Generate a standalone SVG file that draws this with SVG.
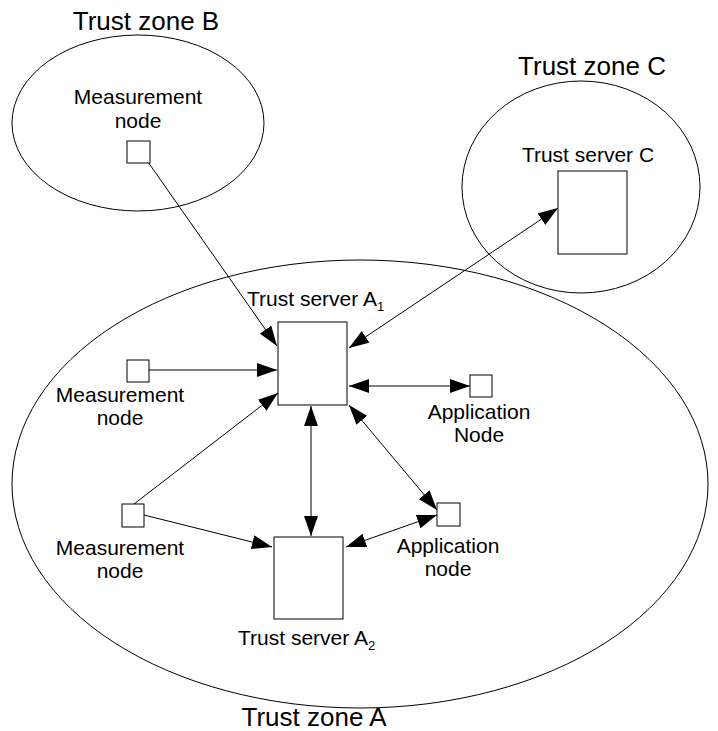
<svg xmlns="http://www.w3.org/2000/svg" width="718" height="731" viewBox="0 0 718 731">
<style>
text{font-family:"Liberation Sans",Arial,sans-serif;fill:#000}
.z{font-size:26px}
.t{font-size:21px}
.zone{fill:none;stroke:#000;stroke-width:1}
.box{fill:#fff;stroke:#000;stroke-width:1}
.c{stroke:#000;stroke-width:1;fill:none}
</style>
<defs>
<marker id="ae" viewBox="0 0 20 14" refX="20" refY="7" markerWidth="20" markerHeight="14" markerUnits="userSpaceOnUse" orient="auto"><path d="M0,0L20,7L0,14z" fill="#000"/></marker>
<marker id="as" viewBox="0 0 20 14" refX="0" refY="7" markerWidth="20" markerHeight="14" markerUnits="userSpaceOnUse" orient="auto"><path d="M20,0L0,7L20,14z" fill="#000"/></marker>
</defs>
<g id="zoneB"><ellipse class="zone" cx="138" cy="123" rx="126" ry="88"/><text class="z" x="146" y="30" text-anchor="middle">Trust zone B</text></g>
<g id="zoneC"><ellipse class="zone" cx="581" cy="187" rx="119" ry="106"/><text class="z" x="592" y="75" text-anchor="middle">Trust zone C</text></g>
<g id="zoneA"><ellipse class="zone" cx="360" cy="484" rx="348" ry="224"/><text class="z" x="314" y="726" text-anchor="middle">Trust zone A</text></g>
<g id="connectors">
<line class="c" x1="148" y1="162" x2="277" y2="346" marker-end="url(#ae)"/>
<line class="c" x1="149" y1="370" x2="277" y2="370" marker-end="url(#ae)"/>
<line class="c" x1="134" y1="504" x2="278" y2="393" marker-end="url(#ae)"/>
<line class="c" x1="144" y1="515" x2="272" y2="547" marker-end="url(#ae)"/>
<line class="c" x1="349" y1="348" x2="558" y2="208" marker-start="url(#as)" marker-end="url(#ae)"/>
<line class="c" x1="349" y1="386" x2="470" y2="386" marker-start="url(#as)" marker-end="url(#ae)"/>
<line class="c" x1="349" y1="405" x2="437" y2="510" marker-start="url(#as)" marker-end="url(#ae)"/>
<line class="c" x1="311" y1="406" x2="311" y2="536" marker-start="url(#as)" marker-end="url(#ae)"/>
<line class="c" x1="346" y1="547" x2="437" y2="515" marker-start="url(#as)" marker-end="url(#ae)"/>
</g>
<g id="measB"><rect class="box" x="127" y="141" width="23" height="22"/><text class="t" x="138" y="104" text-anchor="middle">Measurement</text><text class="t" x="138" y="128" text-anchor="middle">node</text></g>
<g id="serverC"><rect class="box" x="558" y="171" width="69" height="83"/><text class="t" x="588" y="162" text-anchor="middle">Trust server C</text></g>
<g id="serverA1"><rect class="box" x="278" y="322" width="69" height="83"/><text class="t" x="247" y="306">Trust server A<tspan font-size="13" dy="5">1</tspan></text></g>
<g id="measA1"><rect class="box" x="127" y="360" width="22" height="22"/><text class="t" x="120" y="402" text-anchor="middle">Measurement</text><text class="t" x="120" y="425" text-anchor="middle">node</text></g>
<g id="appA1"><rect class="box" x="470" y="375" width="22" height="22"/><text class="t" x="479" y="419" text-anchor="middle">Application</text><text class="t" x="479" y="442" text-anchor="middle">Node</text></g>
<g id="measA2"><rect class="box" x="122" y="504" width="22" height="23"/><text class="t" x="120" y="555" text-anchor="middle">Measurement</text><text class="t" x="120" y="578" text-anchor="middle">node</text></g>
<g id="appA2"><rect class="box" x="437" y="503" width="23" height="23"/><text class="t" x="448" y="553" text-anchor="middle">Application</text><text class="t" x="448" y="576" text-anchor="middle">node</text></g>
<g id="serverA2"><rect class="box" x="274" y="537" width="69" height="82"/><text class="t" x="238" y="645">Trust server A<tspan font-size="13" dy="5">2</tspan></text></g>
</svg>
